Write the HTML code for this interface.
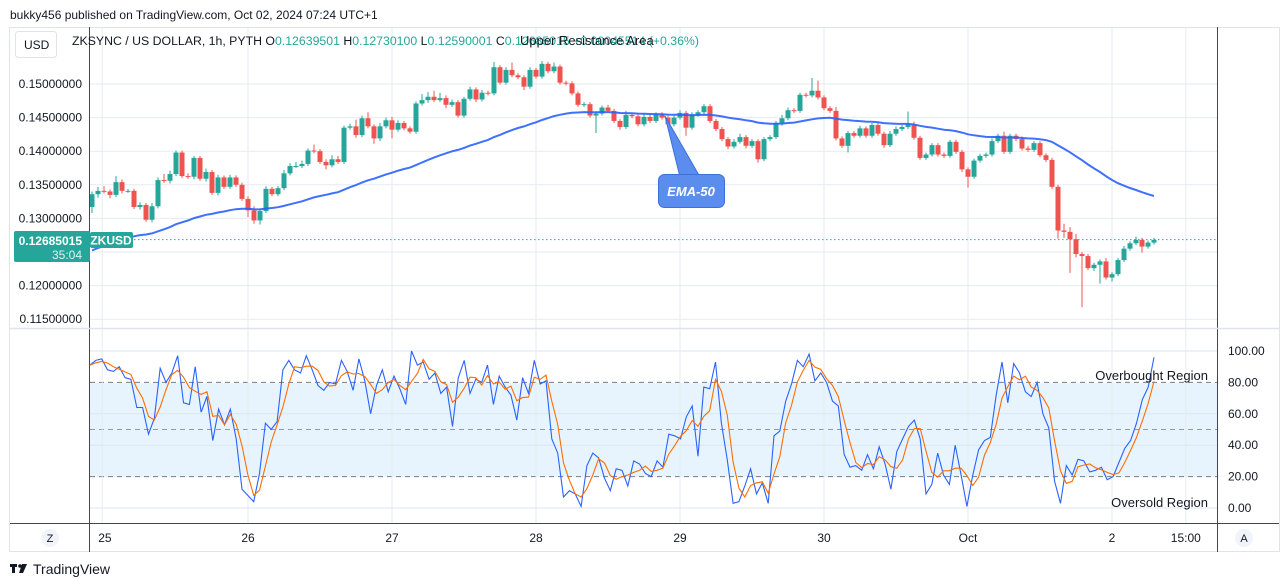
<!DOCTYPE html>
<html><head><meta charset="utf-8"><style>
html,body{margin:0;padding:0;background:#fff;}
svg{display:block;font-family:"Liberation Sans",sans-serif;}
</style></head><body>
<svg id="chart" width="1281" height="587" viewBox="0 0 1281 587" xmlns="http://www.w3.org/2000/svg">
<rect x="0" y="0" width="1281" height="587" fill="#ffffff"/>
<text x="10" y="19" font-size="12" fill="#131722">bukky456 published on TradingView.com, Oct 02, 2024 07:24 UTC+1</text>
<rect x="9.5" y="27.5" width="1270" height="524" fill="none" stroke="#e0e3eb"/>
<rect x="90" y="383" width="1127" height="94" fill="#e3f2fd" opacity="0.85"/>
<g id="grid"></g>
<g id="candles"></g>
<path id="ema" fill="none" stroke="#2962ff" stroke-width="2" opacity="0.9"/>
<line id="curline" x1="90" x2="1217" stroke="#26a69a" stroke-dasharray="1.5,2.5"/>
<path id="kline" fill="none" stroke="#2962ff" stroke-width="1.1"/>
<path id="dline" fill="none" stroke="#ff6d00" stroke-width="1.1"/>
<line x1="89.5" y1="27" x2="89.5" y2="552" stroke="#434651"/>
<line x1="1217.5" y1="27" x2="1217.5" y2="552" stroke="#434651"/>
<line x1="10" y1="328.5" x2="1279" y2="328.5" stroke="#e0e3eb" stroke-width="1.5"/>
<line x1="10" y1="523.5" x2="1279" y2="523.5" stroke="#434651"/>
<g id="labels"></g>
<rect x="15.5" y="31.5" width="41" height="26" rx="3" fill="#fff" stroke="#e0e3eb"/>
<text x="24" y="49" font-size="12" fill="#131722">USD</text>
<text x="72" y="45" font-size="12.3" fill="#131722">ZKSYNC / US DOLLAR, 1h, PYTH  O<tspan fill="#26a69a">0.12639501</tspan>  H<tspan fill="#26a69a">0.12730100</tspan>  L<tspan fill="#26a69a">0.12590001</tspan>  C<tspan fill="#26a69a">0.12685015 +0.00045514 (+0.36%)</tspan></text>
<text x="520" y="45" font-size="13" fill="#131722">Upper Resistance Area</text>
<g>
<polygon points="665,116 680,177 700,177" fill="#5b8def" stroke="#3d6fd8"/>
<rect x="658.5" y="174.5" width="66" height="33" rx="6" fill="#5b8def" stroke="#3d6fd8"/>
<text x="691" y="196" font-size="13" font-style="italic" font-weight="bold" fill="#fff" text-anchor="middle">EMA-50</text>
</g>
<g>
<rect x="14" y="231" width="76" height="31" rx="2" fill="#26a69a"/>
<text x="82" y="245" font-size="12" font-weight="bold" fill="#fff" text-anchor="end">0.12685015</text>
<text x="82" y="259" font-size="12" fill="#e0f2f1" text-anchor="end">35:04</text>
<rect x="90" y="232" width="43" height="16" rx="2" fill="#26a69a"/>
<text x="111" y="244.5" font-size="12" font-weight="bold" fill="#fff" text-anchor="middle">ZKUSD</text>
</g>
<text x="1208" y="380" font-size="13" fill="#131722" text-anchor="end">Overbought Region</text>
<text x="1208" y="507" font-size="13" fill="#131722" text-anchor="end">Oversold Region</text>
<circle cx="50" cy="538" r="9" fill="#f0f3fa"/>
<text x="50" y="542" font-size="11" fill="#131722" text-anchor="middle">Z</text>
<circle cx="1244" cy="538" r="9" fill="#f0f3fa"/>
<text x="1244" y="542" font-size="11" fill="#131722" text-anchor="middle">A</text>
<g>
<rect x="10" y="564" width="7" height="3" fill="#131722"/><rect x="12" y="564" width="3" height="9" fill="#131722"/>
<circle cx="20" cy="566" r="1.8" fill="#131722"/><polygon points="22,564 27,564 23,573 19,573" fill="#131722"/>
<text x="33" y="574" font-size="14" fill="#131722">TradingView</text>
</g>
</svg>
<script>
const closes=[133.6,134.1,134.0,133.5,135.4,134.1,134.1,131.7,132.0,129.8,131.8,135.7,135.6,136.6,139.8,136.3,136.2,139.0,135.9,136.9,133.8,136.1,134.7,136.1,135.0,132.9,131.2,129.7,131.1,134.4,133.6,134.5,136.7,137.8,137.8,138.1,140.1,140.0,138.4,137.9,138.8,138.4,143.5,143.7,142.4,144.9,143.7,141.9,143.7,144.6,143.2,144.2,143.4,142.9,147.1,147.6,148.1,147.6,147.9,146.9,147.3,145.3,147.8,149.2,147.7,148.7,148.6,152.5,150.2,152.1,151.3,151.0,149.6,152.1,151.1,153.0,151.9,152.6,150.2,150.1,148.6,146.9,147.0,145.3,145.6,146.5,146.0,144.5,143.6,145.4,145.2,144.0,145.1,144.5,145.5,145.0,144.0,145.0,145.7,143.5,145.4,145.8,146.7,144.5,143.3,141.8,140.7,141.4,142.1,140.8,141.5,138.8,141.8,142.1,144.2,144.9,146.1,146.0,148.4,148.3,149.0,148.0,146.4,146.0,141.9,140.8,142.7,142.3,143.4,142.3,143.9,142.6,140.9,142.6,143.3,143.6,144.0,142.0,139.0,139.5,140.9,139.5,139.3,141.4,139.9,137.3,136.2,138.6,139.3,139.5,141.5,142.3,139.9,142.3,141.8,140.4,140.2,141.2,139.4,138.7,134.7,128.2,128.0,126.9,124.7,124.4,122.6,123.1,123.6,121.2,121.7,123.8,125.5,126.3,126.8,125.8,126.4,126.8];
const wickHi=[0.4,0.6,0.7,0.3,0.9,0.4,0.3,0.3,0.4,0.3,0.5,0.4,0.9,0.5,0.3,0.3,0.4,0.3,0.3,0.5,0.3,0.4,0.3,0.4,0.3,0.3,0.4,0.6,0.3,0.4,0.3,0.3,0.5,0.4,0.6,0.5,0.3,0.9,0.3,0.4,0.6,0.5,0.3,0.4,1.0,0.4,0.9,0.3,0.5,0.4,0.5,0.4,0.3,0.3,0.3,0.9,0.7,0.9,0.8,0.4,0.4,0.3,0.3,0.4,0.3,0.4,0.3,0.8,0.3,0.4,1.1,0.3,0.3,0.4,0.3,0.4,0.3,0.6,0.3,0.3,0.3,0.3,0.3,0.3,0.3,0.3,0.4,0.3,0.3,0.6,0.3,0.3,0.5,0.3,0.3,0.3,0.3,0.3,0.4,0.3,0.4,0.3,0.3,0.3,0.3,0.3,0.3,0.4,0.5,0.3,0.3,0.3,0.3,0.3,0.3,0.5,0.4,0.3,0.3,0.3,1.9,1.5,0.3,0.3,0.6,0.3,0.3,0.3,0.4,0.3,0.3,0.3,0.3,0.4,0.4,0.3,1.9,0.4,0.3,0.3,0.3,0.3,0.3,0.3,0.3,0.3,0.3,0.3,0.3,0.3,0.4,0.3,0.6,0.3,0.3,0.4,0.4,0.3,0.3,0.3,0.3,0.3,1.0,0.7,0.8,0.3,0.3,0.3,0.3,0.5,0.3,0.3,0.4,0.3,0.5,0.3,0.3,0.3,0.4,0.4];
const wickLo=[0.9,0.5,0.3,0.5,0.3,0.4,0.3,0.3,0.4,0.3,0.4,0.3,0.3,0.4,0.3,0.3,0.3,0.4,0.3,0.4,0.3,0.4,0.3,0.3,0.3,0.3,1.0,0.5,0.6,0.3,0.3,0.3,0.3,0.3,0.3,0.3,0.3,0.3,0.3,0.6,0.3,0.3,0.3,0.3,0.4,0.3,0.3,0.8,0.4,0.3,1.3,0.3,0.3,0.3,0.3,0.3,0.4,0.3,0.3,0.5,0.3,0.3,0.3,0.3,0.4,0.3,0.3,0.3,0.3,0.3,0.3,0.3,0.5,0.3,0.3,0.3,0.3,0.3,0.3,0.3,0.3,0.3,0.3,0.3,2.6,0.3,0.3,0.3,0.4,0.3,0.3,0.3,0.3,0.3,0.3,0.3,0.3,0.3,0.3,1.2,0.3,0.3,0.3,0.3,0.3,0.3,0.4,0.3,0.3,0.4,0.3,0.5,0.3,0.3,0.3,0.4,0.3,0.3,0.3,0.3,0.3,0.3,0.3,0.3,0.3,0.3,1.0,0.3,0.3,0.3,0.3,0.3,0.4,0.3,0.3,0.3,0.3,0.3,0.3,0.3,0.3,0.3,0.3,0.3,0.3,0.4,1.6,0.3,0.3,0.3,0.3,0.3,0.3,0.3,0.3,0.3,0.3,0.3,0.3,0.3,0.3,1.2,0.9,5.0,0.5,7.6,0.3,0.4,2.8,0.3,0.6,0.3,0.3,0.3,0.3,0.9,0.3,0.3];
const firstOpen=131.7;
const emaSeed=124.9;
const priceTicks=[150,145,140,135,130,120,115];
const priceTickLabels=["0.15000000","0.14500000","0.14000000","0.13500000","0.13000000","0.12000000","0.11500000"];
const stochK=[91,94,95,88,87,90,83,82,64,64,47,57,89,80,86,97,67,66,90,61,71,43,63,53,63,44,12,8,4,22,54,50,55,88,94,88,86,97,88,78,75,80,79,94,87,75,95,81,60,78,88,74,84,76,66,100,91,93,82,86,73,77,52,83,94,73,82,80,91,66,84,77,72,56,83,73,94,79,81,44,35,7,11,9,1,27,35,32,19,11,25,24,14,30,28,22,20,30,26,47,46,44,58,65,33,77,76,93,54,31,3,4,14,25,9,16,3,46,49,68,79,94,90,98,81,86,80,68,65,34,26,27,24,34,25,39,28,12,36,44,52,56,44,9,15,35,21,15,40,21,1,21,37,43,45,72,93,67,92,86,74,71,80,60,51,17,3,27,21,31,30,23,24,26,18,20,29,38,43,54,69,77,96];
const stochTicks=[100,80,60,40,20,0];
const stochTickLabels=["100.00","80.00","60.00","40.00","20.00","0.00"];
const dayLabels=["25","26","27","28","29","30","Oct","2","15:00"];
const dayIndex=[1.7,26,50,74,98,122,146,170,182.3];
const lastPrice=126.85;

const NS="http://www.w3.org/2000/svg";
const X0=92, STEP=6;
function xAt(i){return X0+i*STEP;}
function yP(p){return 84+(150-p)*6.72;}
function yS(v){return 508-v*1.57;}
function mk(tag,attrs,parent){const e=document.createElementNS(NS,tag);for(const k in attrs)e.setAttribute(k,attrs[k]);parent.appendChild(e);return e;}
const grid=document.getElementById('grid'),cg=document.getElementById('candles'),lb=document.getElementById('labels');
priceTicks.concat([125]).forEach(p=>{const l=mk('line',{x1:90,x2:1217,y1:yP(p),y2:yP(p),stroke:'#e6ebf1'},grid);

});
priceTicks.forEach((p,i)=>{const t=mk('text',{x:82,y:yP(p)+4,'font-size':12,fill:'#131722','text-anchor':'end'},lb);t.textContent=priceTickLabels[i];

});
[100,60,40,0].forEach(v=>{const l=mk('line',{x1:90,x2:1217,y1:yS(v),y2:yS(v),stroke:'#dce6f0'},grid);

});
[[80,'#787b86'],[50,'#9598a1'],[20,'#787b86']].forEach(a=>{const l=mk('line',{x1:90,x2:1217,y1:yS(a[0]),y2:yS(a[0]),stroke:a[1],'stroke-dasharray':'5,4'},grid);

});
stochTicks.forEach((v,i)=>{const t=mk('text',{x:1228,y:yS(v)+4,'font-size':12,fill:'#131722'},lb);t.textContent=stochTickLabels[i];

});
dayIndex.forEach((d,i)=>{const x=xAt(d);const l=mk('line',{x1:x,x2:x,y1:28,y2:523,stroke:'#e6ebf1'},grid);


const t=mk('text',{x:i==0?x-4:x,y:542,'font-size':12,fill:'#131722','text-anchor':i==0?'start':'middle'},lb);t.textContent=dayLabels[i];

});
let prev=firstOpen;
closes.forEach((c,i)=>{const o=prev;prev=c;const up=c>=o;const col=up?'#26a69a':'#ef5350';const x=xAt(i);
const hi=Math.max(o,c)+wickHi[i],lo=Math.min(o,c)-wickLo[i];
const w=mk('line',{x1:x,x2:x,y1:yP(hi),y2:yP(lo),stroke:col,'stroke-width':1},cg);


const yt=yP(Math.max(o,c)),yb=yP(Math.min(o,c));
const b=mk('rect',{x:x-2.5,y:yt,width:5,height:Math.max(1,yb-yt),fill:col},cg);

});
let e=emaSeed,d='';const a=2/51;
closes.forEach((c,i)=>{e=e+a*(c-e);d+=(i?'L':'M')+xAt(i).toFixed(1)+','+yP(e).toFixed(1);});
document.getElementById('ema').setAttribute('d',d);
const cl=document.getElementById('curline');cl.setAttribute('y1',yP(lastPrice));cl.setAttribute('y2',yP(lastPrice));
const sx0=90,sx1=1154;function xS(i){return sx0+(sx1-sx0)*i/(stochK.length-1);}
let kd='',dd='';
stochK.forEach((v,i)=>{kd+=(i?'L':'M')+xS(i).toFixed(1)+','+yS(v).toFixed(1);
const s=stochK.slice(Math.max(0,i-2),i+1);const m=s.reduce((p,q)=>p+q,0)/s.length;dd+=(i?'L':'M')+xS(i).toFixed(1)+','+yS(m).toFixed(1);});
document.getElementById('kline').setAttribute('d',kd);
document.getElementById('dline').setAttribute('d',dd);
</script>
</body></html>
